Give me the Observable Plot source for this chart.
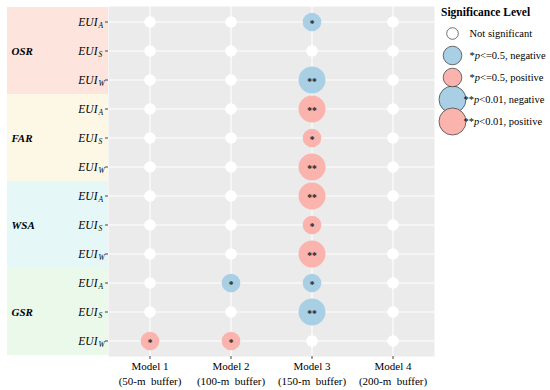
<!DOCTYPE html>
<html><head><meta charset="utf-8">
<script src="https://cdn.jsdelivr.net/npm/d3@7"></script>
<script src="https://cdn.jsdelivr.net/npm/@observablehq/plot@0.6"></script>
<style>
body{margin:0;background:#fff;}
#wrap{position:relative;width:550px;height:390px;font-family:"Liberation Serif",serif;}
#legend{position:absolute;left:436px;top:0;overflow:visible;}
#ltitle{position:absolute;left:441px;top:7px;font-weight:bold;font-size:11.5px;line-height:1;color:#000;}
</style></head><body><div id="wrap"><div id="ltitle">Significance Level</div></div>
<script>
const groups = ["OSR", "FAR", "WSA", "GSR"];
const groupFills = ["#fde4dc", "#fdf8e5", "#e6f7f8", "#ebf9eb"];
const indices = ["A", "S", "W"];
const models = ["Model 1", "Model 2", "Model 3", "Model 4"];
const buffers = ["(50-m\u00a0 buffer)", "(100-m\u00a0 buffer)", "(150-m\u00a0 buffer)", "(200-m\u00a0 buffer)"];
// rows top to bottom: OSR A,S,W; FAR A,S,W; WSA A,S,W; GSR A,S,W
const sigModel1 = ["ns","ns","ns", "ns","ns","ns", "ns","ns","ns", "ns","ns","*+"];
const sigModel2 = ["ns","ns","ns", "ns","ns","ns", "ns","ns","ns", "*-","ns","*+"];
const sigModel3 = ["*-","ns","**-", "**+","*+","**+", "**+","*+","**+", "*-","**-","ns"];
const sigModel4 = ["ns","ns","ns", "ns","ns","ns", "ns","ns","ns", "ns","ns","ns"];
const legendKeys = ["ns", "*-", "*+", "**-", "**+"];
const legendLabels = ["Not significant", "*p<=0.5, negative", "*p<=0.5, positive", "**p<0.01, negative", "**p<0.01, positive"];
const dirNames = ["ns", "neg", "pos"];
const dirColors = ["#ffffff", "#a9cfe5", "#fbb3ad"];

const sigs = [sigModel1, sigModel2, sigModel3, sigModel4];
const rows = groups.flatMap(g => indices.map(i => ({group: g, idx: i, key: g + "|" + i})));
const cells = models.flatMap((m, mi) => sigs[mi].map((s, ri) => ({model: m, key: rows[ri].key, sig: s})));
const level = s => s === "ns" ? 1 : (s.startsWith("**") ? 3 : 2);
const dir = s => s === "ns" ? "ns" : (s.endsWith("-") ? "neg" : "pos");

const rScale = {type: "linear", domain: [1, 2, 3], range: [5.8, 9.3, 13.5]};
const colorScale = {type: "ordinal", domain: dirNames, range: dirColors};
const font = '"Liberation Serif", serif';

function groupBands(index, scales, values, dimensions) {
  const y = scales.y;
  let bw = typeof y.bandwidth === "function" ? y.bandwidth() : y.bandwidth;
  if (!(bw > 0)) bw = (dimensions.height - dimensions.marginTop - dimensions.marginBottom) / rows.length;
  const g = d3.create("svg:g");
  groups.forEach((grp, i) => {
    const top = y(grp + "|" + indices[0]);
    const bottom = y(grp + "|" + indices[indices.length - 1]) + bw;
    g.append("rect")
      .attr("x", 7).attr("y", top)
      .attr("width", dimensions.marginLeft - 7).attr("height", bottom - top)
      .attr("fill", groupFills[i]);
  });
  return g.node();
}

const chart = Plot.plot({
  width: 550, height: 390,
  marginLeft: 108, marginRight: 116, marginTop: 6, marginBottom: 34,
  style: {fontFamily: font, fontSize: "11px", color: "#000", background: "transparent"},
  x: {type: "band", domain: models, padding: 0},
  y: {type: "band", domain: rows.map(d => d.key), padding: 0},
  r: rScale,
  color: colorScale,
  marks: [
    groupBands,
    Plot.frame({fill: "#ebebeb", stroke: "none"}),
    Plot.gridX({stroke: "#ffffff", strokeOpacity: 1, strokeWidth: 1.1}),
    Plot.gridY({stroke: "#ffffff", strokeOpacity: 1, strokeWidth: 1.1}),
    Plot.axisX({tickSize: 3, tickPadding: 0, label: null, lineHeight: 1.35, fontSize: 11,
      stroke: "#444", tickFormat: d => d + "\n" + buffers[models.indexOf(d)]}),
    Plot.axisY({tickSize: 3, tickPadding: 8, label: null, fontStyle: "italic", fontSize: 11.5,
      stroke: "#444", tickFormat: () => "EUI"}),
    Plot.text(rows, {y: "key", text: "idx", frameAnchor: "left", dx: -10, dy: 3.5,
      textAnchor: "start", fontSize: 7.5, fontStyle: "italic"}),
    Plot.text(groups, {y: g => g + "|S", text: d => d, frameAnchor: "left", dx: -97,
      textAnchor: "start", fontWeight: "bold", fontStyle: "italic", fontSize: 11}),
    Plot.dot(cells, {x: "model", y: "key", r: d => level(d.sig), fill: d => dir(d.sig)}),
    Plot.text(cells.filter(d => d.sig !== "ns"), {x: "model", y: "key",
      text: d => "*".repeat(level(d.sig) - 1), fontSize: 9.5, dy: 2, fill: "#222", fontWeight: "bold"})
  ]
});
document.getElementById("wrap").appendChild(chart);

const singleIdx = legendKeys.map((k, i) => i).filter(i => !legendKeys[i].startsWith("**"));
const doubleIdx = legendKeys.map((k, i) => i).filter(i => legendKeys[i].startsWith("**"));
const legend = Plot.plot({
  width: 114, height: 140,
  marginTop: 22, marginBottom: 8, marginLeft: 0, marginRight: 0,
  style: {fontFamily: font, fontSize: "10.5px", color: "#000", background: "transparent", overflow: "visible"},
  y: {type: "band", domain: legendKeys, padding: 0, axis: null},
  r: rScale,
  color: colorScale,
  marks: [
    Plot.dot(legendKeys, {y: d => d, r: d => level(d), fill: d => dir(d), stroke: "#333",
      strokeWidth: 0.7, frameAnchor: "left", dx: 16}),
    Plot.text(singleIdx, {y: i => legendKeys[i], text: i => legendLabels[i], frameAnchor: "left",
      dx: 33, textAnchor: "start", fontSize: 10.5}),
    Plot.text(doubleIdx, {y: i => legendKeys[i], text: i => legendLabels[i], frameAnchor: "left",
      dx: 27, textAnchor: "start", fontSize: 10.5})
  ]
});
legend.id = "legend";
d3.select(legend).selectAll("text").each(function() {
  const t = this.textContent;
  const i = t.indexOf("p");
  if (t[0] === "*" && i > 0) {
    this.textContent = "";
    const s = d3.select(this);
    s.append("tspan").text(t.slice(0, i));
    s.append("tspan").attr("font-style", "italic").text("p");
    s.append("tspan").text(t.slice(i + 1));
  }
});
document.getElementById("wrap").appendChild(legend);
</script></body></html>
